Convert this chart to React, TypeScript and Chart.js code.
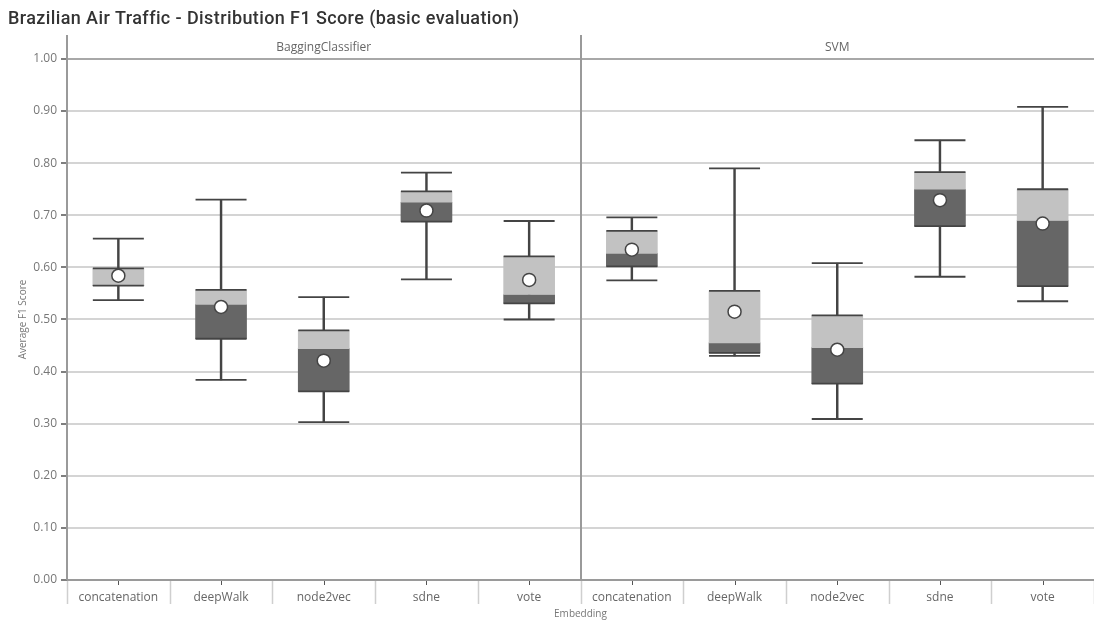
import React, { useEffect, useRef } from "react";
import { Chart, registerables } from "chart.js";

Chart.register(...registerables);

// Facets (classifiers) and the embeddings evaluated within each
const classifiers = ["BaggingClassifier", "SVM"];
const embeddings = ["concatenation", "deepWalk", "node2vec", "sdne", "vote"];

// Box-plot statistics of the F1 score, BaggingClassifier first, then SVM
const lowerWhisker = [0.537, 0.384, 0.303, 0.577, 0.5, 0.575, 0.43, 0.309, 0.582, 0.535];
const q1 = [0.565, 0.463, 0.362, 0.688, 0.531, 0.602, 0.436, 0.377, 0.679, 0.564];
const median = [0.565, 0.529, 0.444, 0.725, 0.548, 0.627, 0.455, 0.446, 0.75, 0.69];
const q3 = [0.598, 0.557, 0.479, 0.746, 0.621, 0.67, 0.555, 0.508, 0.783, 0.75];
const upperWhisker = [0.655, 0.73, 0.543, 0.782, 0.689, 0.696, 0.79, 0.608, 0.844, 0.908];
const meanScore = [0.584, 0.524, 0.421, 0.709, 0.576, 0.634, 0.515, 0.442, 0.729, 0.684];

const yTicks = [0, 0.1, 0.2, 0.3, 0.4, 0.5, 0.6, 0.7, 0.8, 0.9, 1.0];

const TITLE = "Brazilian Air Traffic - Distribution F1 Score (basic evaluation)";
const Y_TITLE = "Average F1 Score";
const X_TITLE = "Embedding";

const labels = classifiers.flatMap(() => embeddings);

const BOX_W = 51;
const LINE_DARK = "#444444";
const FONT = "'Open Sans', 'Noto Sans', sans-serif";

const facetPlugin = {
  id: "facets",
  afterDraw(chart: any) {
    const { ctx, chartArea } = chart;
    const x = chart.scales.x;
    const n = labels.length;
    const step = (chartArea.right - chartArea.left) / n;
    const axisY = chartArea.bottom;
    ctx.save();

    // title
    ctx.fillStyle = "#333333";
    ctx.font = "500 18px Roboto, sans-serif";
    (ctx as any).letterSpacing = "0.4px";
    ctx.textAlign = "left";
    ctx.textBaseline = "middle";
    ctx.fillText(TITLE, 8, 19);
    (ctx as any).letterSpacing = "0px";

    // separators below the axis
    ctx.strokeStyle = "#cfcfcf";
    ctx.lineWidth = 1.5;
    for (let i = 0; i <= n; i++) {
      const px = Math.round(chartArea.left + i * step) + 0.5;
      ctx.beginPath();
      ctx.moveTo(px, axisY + 1);
      ctx.lineTo(px, axisY + 24);
      ctx.stroke();
    }

    // category tick marks
    ctx.strokeStyle = "#555555";
    ctx.lineWidth = 1;
    for (let i = 0; i < n; i++) {
      const px = Math.round(x.getPixelForValue(i)) + 0.5;
      ctx.beginPath();
      ctx.moveTo(px, axisY);
      ctx.lineTo(px, axisY + 5);
      ctx.stroke();
    }

    // facet divider and left border
    ctx.strokeStyle = "#9a9a9a";
    ctx.lineWidth = 2;
    const per = embeddings.length;
    for (let f = 0; f < classifiers.length; f++) {
      const px = Math.round(chartArea.left + f * per * step);
      ctx.beginPath();
      ctx.moveTo(px, chartArea.top);
      ctx.lineTo(px, axisY);
      ctx.stroke();
    }

    // x axis line
    ctx.beginPath();
    ctx.moveTo(chartArea.left, axisY);
    ctx.lineTo(chartArea.right, axisY);
    ctx.stroke();

    // facet headers
    ctx.fillStyle = "#666666";
    ctx.font = `12px ${FONT}`;
    ctx.textAlign = "center";
    for (let f = 0; f < classifiers.length; f++) {
      const cx = chartArea.left + (f * per + per / 2) * step;
      ctx.fillText(classifiers[f], cx, 48);
    }

    // axis titles
    ctx.font = `10px ${FONT}`;
    ctx.fillStyle = "#777777";
    ctx.fillText(X_TITLE, (chartArea.left + chartArea.right) / 2, 614);
    ctx.translate(23, (chartArea.top + axisY) / 2 + 12);
    ctx.rotate(-Math.PI / 2);
    ctx.fillText(Y_TITLE, 0, 0);
    ctx.restore();
  },
};

export default function App() {
  const canvasRef = useRef<HTMLCanvasElement | null>(null);

  useEffect(() => {
    const canvas = canvasRef.current;
    if (!canvas) return;

    const capDataset = (values: number[], order: number) => ({
      type: "line" as const,
      data: values,
      showLine: false,
      pointStyle: "line",
      pointRadius: BOX_W / 2,
      pointHoverRadius: BOX_W / 2,
      pointBorderColor: LINE_DARK,
      pointBorderWidth: 1.8,
      borderColor: LINE_DARK,
      order,
    });

    const chart = new Chart(canvas, {
      type: "bar",
      data: {
        labels,
        datasets: [
          {
            type: "line",
            data: meanScore,
            showLine: false,
            pointStyle: "circle",
            pointRadius: 6.5,
            pointBackgroundColor: "#ffffff",
            pointBorderColor: LINE_DARK,
            pointBorderWidth: 1.5,
            order: 0,
          } as any,
          capDataset(q1, 1),
          capDataset(q3, 1),
          {
            type: "bar",
            data: labels.map((_, i) => [median[i], q3[i]]),
            backgroundColor: "#c2c2c2",
            barThickness: BOX_W,
            grouped: false,
            order: 2,
          } as any,
          {
            type: "bar",
            data: labels.map((_, i) => [q1[i], median[i]]),
            backgroundColor: "#666666",
            barThickness: BOX_W,
            grouped: false,
            order: 2,
          } as any,
          capDataset(lowerWhisker, 3),
          capDataset(upperWhisker, 3),
          {
            type: "bar",
            data: labels.map((_, i) => [lowerWhisker[i], upperWhisker[i]]),
            backgroundColor: LINE_DARK,
            barThickness: 1.8,
            grouped: false,
            order: 4,
          } as any,
        ],
      },
      options: {
        animation: false,
        responsive: false,
        maintainAspectRatio: false,
        events: [],
        layout: { autoPadding: false, padding: { top: 35, left: 0, right: 0, bottom: 0 } },
        plugins: {
          legend: { display: false },
          tooltip: { enabled: false },
          title: { display: false },
        },
        scales: {
          x: {
            type: "category",
            offset: true,
            grid: { display: false },
            border: { display: false },
            ticks: {
              color: "#666666",
              font: { family: FONT, size: 12 },
              padding: 2,
              maxRotation: 0,
              autoSkip: false,
            },
            afterFit(scale: any) {
              scale.height = 41;
            },
          },
          y: {
            min: 0,
            max: 1.046,
            afterBuildTicks(scale: any) {
              scale.ticks = yTicks.map((v) => ({ value: v }));
            },
            grid: {
              color: (ctx: any) =>
                ctx.tick && ctx.tick.value === 1 ? "#a8a8a8" : "#d4d4d4",
              lineWidth: (ctx: any) => (ctx.tick && ctx.tick.value === 0 ? 0 : 2),
              tickColor: "#555555",
              tickLength: 6,
              tickWidth: 1.5,
            },
            border: { display: false },
            ticks: {
              color: "#777777",
              font: { family: FONT, size: 12 },
              padding: 4,
              callback: (v: any) => Number(v).toFixed(2),
            },
            afterFit(scale: any) {
              scale.width = 67;
            },
          },
        },
      } as any,
      plugins: [facetPlugin],
    });

    return () => chart.destroy();
  }, []);

  return (
    <div style={{ position: "absolute", left: 0, top: 0, width: 1094, height: 621, background: "#ffffff" }}>
      <canvas ref={canvasRef} width={1094} height={621} style={{ display: "block" }} />
    </div>
  );
}
